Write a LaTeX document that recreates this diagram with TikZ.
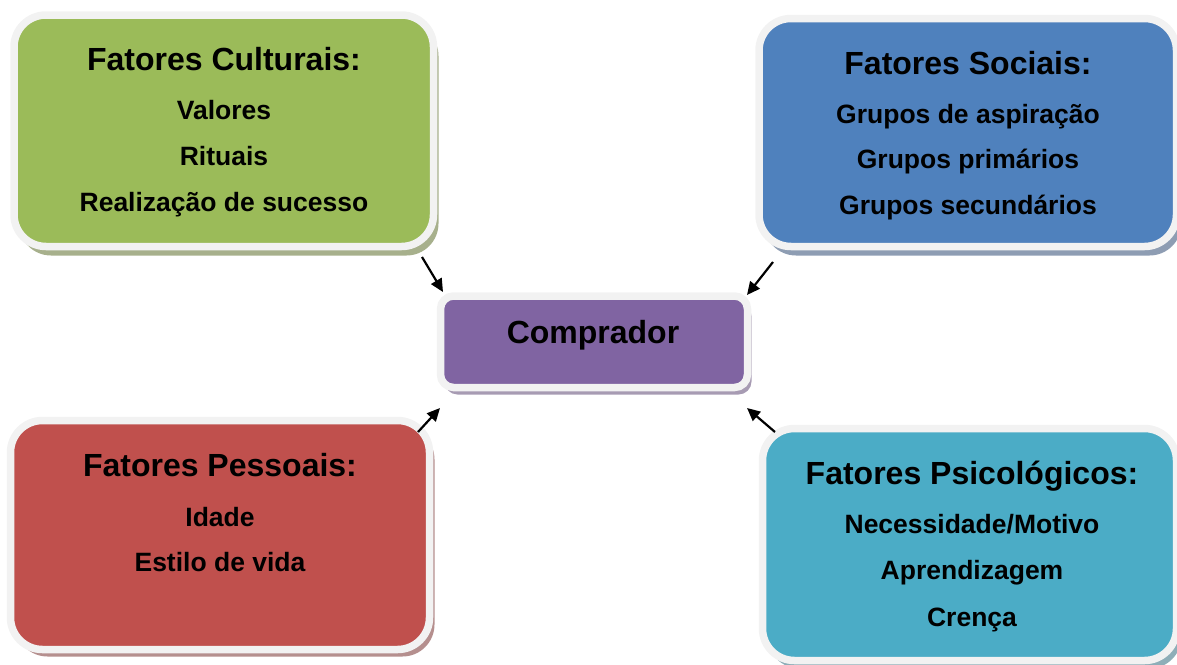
\documentclass[tikz,border=0pt]{standalone}
\usepackage{fontspec}
\setmainfont{Liberation Sans}
\usetikzlibrary{shadows,arrows.meta}
\definecolor{cgreen}{HTML}{9BBB59}
\definecolor{cblue}{HTML}{4F81BD}
\definecolor{cred}{HTML}{C0504D}
\definecolor{cpurple}{HTML}{8064A2}
\definecolor{cteal}{HTML}{4BACC6}
\definecolor{cborder}{HTML}{F2F2F2}
\definecolor{sgreen}{HTML}{A7B08C}
\definecolor{sblue}{HTML}{8E9DB3}
\definecolor{sred}{HTML}{B58F8E}
\definecolor{spurple}{HTML}{A79BB3}
\definecolor{steal}{HTML}{8EAEB8}
\tikzset{
  factorbox/.style={draw=cborder, line width=7.5pt, rounded corners=32pt,
    inner sep=0pt, outer sep=0pt},
  titletext/.style={anchor=base, font=\bfseries\fontsize{32}{36}\selectfont, inner sep=0pt},
  itemtext/.style={anchor=base, font=\bfseries\fontsize{26.5}{30}\selectfont, inner sep=0pt},
  arr/.style={line width=2.2pt, -{Triangle[length=13pt,width=12pt]}},
}
\begin{document}
\begin{tikzpicture}[x=1pt,y=-1pt]
\useasboundingbox (0,0) rectangle (1177,664);
\clip (0,0) rectangle (1177,664);
% boxes
\node[factorbox, fill=cgreen, minimum width=419.5pt, minimum height=231.5pt,
  drop shadow={shadow xshift=5pt, shadow yshift=-9pt, fill=sgreen, opacity=1}]
  (cult) at (223.75,130.75) {};
\node[factorbox, fill=cblue, minimum width=417.5pt, minimum height=228pt,
  drop shadow={shadow xshift=5pt, shadow yshift=-9pt, fill=sblue, opacity=1}]
  (soc) at (967.75,132.5) {};
\node[factorbox, fill=cred, minimum width=419pt, minimum height=229pt,
  drop shadow={shadow xshift=5pt, shadow yshift=-7pt, fill=sred, opacity=1}]
  (pes) at (220,535) {};
\node[factorbox, fill=cteal, minimum width=414pt, minimum height=232pt,
  drop shadow={shadow xshift=5pt, shadow yshift=-8pt, fill=steal, opacity=1}]
  (psi) at (969.5,544.5) {};
\node[factorbox, fill=cpurple, rounded corners=13pt, minimum width=307pt, minimum height=91.5pt,
  drop shadow={shadow xshift=4pt, shadow yshift=-7pt, fill=spurple, opacity=1}]
  (comp) at (594,341.75) {};
% texts
\node[titletext] (cultT) at (224,70) {Fatores Culturais:};
\node[itemtext] (cult1) at (224,119) {Valores};
\node[itemtext] (cult2) at (224,165) {Rituais};
\node[itemtext] (cult3) at (224,211) {Realização de sucesso};
\node[titletext] (socT) at (968,74) {Fatores Sociais:};
\node[itemtext] (soc1) at (968,123) {Grupos de aspiração};
\node[itemtext] (soc2) at (968,168.5) {Grupos primários};
\node[itemtext] (soc3) at (968,214) {Grupos secundários};
\node[titletext] (pesT) at (220,476) {Fatores Pessoais:};
\node[itemtext] (pes1) at (220,526) {Idade};
\node[itemtext] (pes2) at (220,571) {Estilo de vida};
\node[titletext] (psiT) at (972,484) {Fatores Psicológicos:};
\node[itemtext] (psi1) at (972,533) {Necessidade/Motivo};
\node[itemtext] (psi2) at (972,579) {Aprendizagem};
\node[itemtext] (psi3) at (972,626) {Crença};
\node[titletext] (compT) at (593,343) {Comprador};
% arrow ends
\coordinate (t1) at (422,257); \coordinate (h1) at (443,292);
\coordinate (t2) at (773,262); \coordinate (h2) at (747,295);
\coordinate (t3) at (418,432); \coordinate (h3) at (440,408);
\coordinate (t4) at (775,432); \coordinate (h4) at (747,408);
\draw[arr] (t1) -- (h1);
\draw[arr] (t2) -- (h2);
\draw[arr] (t3) -- (h3);
\draw[arr] (t4) -- (h4);
\end{tikzpicture}
\end{document}
